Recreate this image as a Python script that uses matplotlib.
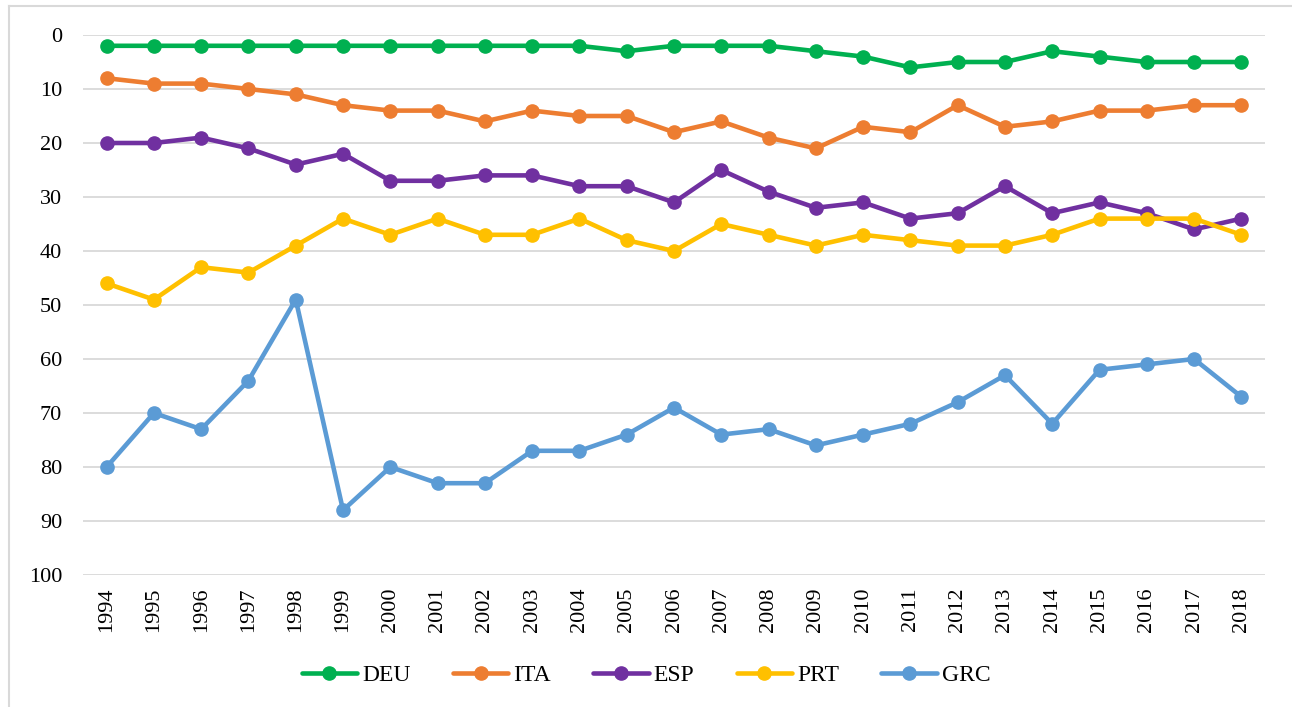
import matplotlib
matplotlib.use("Agg")
import matplotlib.pyplot as plt
from matplotlib.lines import Line2D

years = [str(y) for y in range(1994, 2019)]
deu = [2, 2, 2, 2, 2, 2, 2, 2, 2, 2, 2, 3, 2, 2, 2, 3, 4, 6, 5, 5, 3, 4, 5, 5, 5]
ita = [8, 9, 9, 10, 11, 13, 14, 14, 16, 14, 15, 15, 18, 16, 19, 21, 17, 18, 13, 17, 16, 14, 14, 13, 13]
esp = [20, 20, 19, 21, 24, 22, 27, 27, 26, 26, 28, 28, 31, 25, 29, 32, 31, 34, 33, 28, 33, 31, 33, 36, 34]
prt = [46, 49, 43, 44, 39, 34, 37, 34, 37, 37, 34, 38, 40, 35, 37, 39, 37, 38, 39, 39, 37, 34, 34, 34, 37]
grc = [80, 70, 73, 64, 49, 88, 80, 83, 83, 77, 77, 74, 69, 74, 73, 76, 74, 72, 68, 63, 72, 62, 61, 60, 67]

series = [("DEU", deu, "#00B050"), ("ITA", ita, "#ED7D31"), ("ESP", esp, "#7030A0"),
          ("PRT", prt, "#FFC000"), ("GRC", grc, "#5B9BD5")]
yticks = list(range(0, 101, 10))

plt.rcParams['font.family'] = ['Liberation Serif', 'DejaVu Serif']

W, H = 1292, 707
fig = plt.figure(figsize=(W / 100, H / 100), dpi=100)
ax = fig.add_axes([83 / W, 1 - 575 / H, (1265 - 83) / W, (575 - 35) / H])

# outer border (left and top edges only)
fig.add_artist(Line2D([9 / W, 9 / W], [0, 1 - 6 / H], transform=fig.transFigure,
                      color='#d9d9d9', lw=1.5))
fig.add_artist(Line2D([9 / W, 1], [1 - 6 / H, 1 - 6 / H], transform=fig.transFigure,
                      color='#d9d9d9', lw=1.5))

x = list(range(len(years)))
for name, vals, col in series:
    ax.plot(x, vals, color=col, lw=3.3, marker='o', ms=9.5, label=name, solid_capstyle='round')

ax.set_ylim(100, 0)
ax.set_xlim(-0.5, len(years) - 0.5)
ax.set_yticks(yticks)
ax.set_xticks(x)
ax.set_xticklabels(years, rotation=90)
ax.tick_params(axis='both', labelsize=16, length=0)
ax.tick_params(axis='y', pad=15)
ax.tick_params(axis='x', pad=9)
ax.grid(axis='y', color='#d9d9d9', lw=1.3)
ax.set_axisbelow(True)
for s in ['top', 'right', 'left', 'bottom']:
    ax.spines[s].set_visible(False)

fig.legend(loc='center', bbox_to_anchor=(0.5, 1 - 675 / H), ncol=5, frameon=False,
           fontsize=17, handlelength=2.35, columnspacing=1.8, handletextpad=0.2)

fig.savefig('out.png', dpi=100)
